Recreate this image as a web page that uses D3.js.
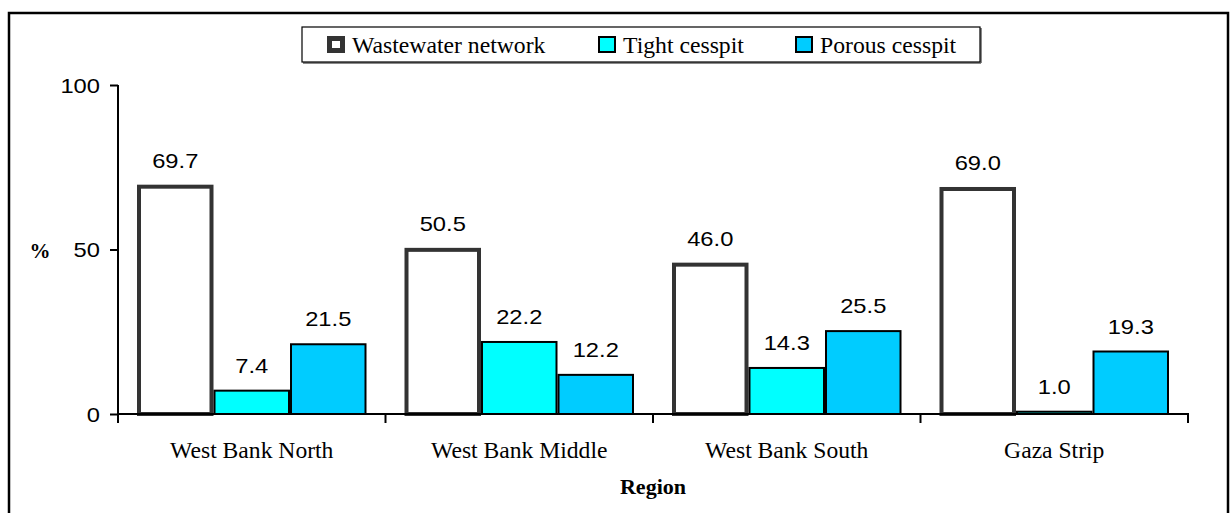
<!DOCTYPE html>
<meta charset="utf-8">
<script src="https://d3js.org/d3.v7.min.js"></script>
<style>
  body { margin: 0; background: #fff; }
</style>
<svg id="chart" width="1230" height="513"></svg>
<script>

// data
var regions = ["West Bank North", "West Bank Middle", "West Bank South", "Gaza Strip"];
var seriesNames = ["Wastewater network", "Tight cesspit", "Porous cesspit"];
var wastewater = [69.7, 50.5, 46.0, 69.0];
var tight = [7.4, 22.2, 14.3, 1.0];
var porous = [21.5, 12.2, 25.5, 19.3];
var yTicks = [0, 50, 100];

var seriesValues = [wastewater, tight, porous];
var fills = ["#ffffff", "#00ffff", "#00ccff"];
var strokes = ["#333333", "#000000", "#000000"];
var strokeW = [4, 2, 2];

var svg = d3.select("#chart");
var sans = "'Liberation Sans', Arial, sans-serif";
var serif = "'Liberation Serif', 'Times New Roman', serif";
var sx = 1.13; // the picture is a bit stretched sideways

function addText(g, x, y, txt, opts) {
  return g.append("text")
    .attr("transform", "translate(" + x + "," + y + ") scale(" + (opts.sx || sx) + ",1)")
    .attr("text-anchor", opts.anchor || "middle")
    .style("font-family", opts.font || sans)
    .style("font-size", opts.size + "px")
    .style("font-weight", opts.weight || "normal")
    .style("fill", "#000")
    .text(txt);
}

// outer frame
svg.append("rect")
  .attr("x", 9).attr("y", 13)
  .attr("width", 1219).attr("height", 520)
  .attr("fill", "none").attr("stroke", "#000").attr("stroke-width", 2.5);

// scales
var x = d3.scaleBand().domain(regions).range([118, 1188]).paddingInner(0).paddingOuter(0);
var xs = d3.scaleBand().domain(seriesNames).range([19, x.bandwidth() - 19]).padding(0);
var y = d3.scaleLinear().domain([0, 100]).range([414, 85]);

// bars
var rows = [];
regions.forEach(function(r, i) {
  seriesNames.forEach(function(s, j) {
    rows.push({ region: r, series: s, j: j, v: seriesValues[j][i] });
  });
});

svg.append("g").selectAll("rect")
  .data(rows)
  .enter()
  .append("rect")
    .attr("x", function(d) { return x(d.region) + xs(d.series) + strokeW[d.j] / 2; })
    .attr("y", function(d) { return y(d.v) + strokeW[d.j] / 2; })
    .attr("width", function(d) { return xs.bandwidth() - strokeW[d.j]; })
    .attr("height", function(d) { return Math.max(0, y(0) - y(d.v) - strokeW[d.j] / 2); })
    .attr("fill", function(d) { return fills[d.j]; })
    .attr("stroke", function(d) { return strokes[d.j]; })
    .attr("stroke-width", function(d) { return strokeW[d.j]; });

// value labels
var lab = svg.append("g");
rows.forEach(function(d) {
  addText(lab, x(d.region) + xs(d.series) + xs.bandwidth() / 2, y(d.v) - 17, d.v.toFixed(1), { size: 21 });
});

// y axis
var yAxis = svg.append("g")
  .attr("transform", "translate(118,0)")
  .call(d3.axisLeft(y).tickValues(yTicks).tickSize(8).tickFormat(function(d) { return ""; }));
yAxis.select(".domain").attr("d", "M0,85V423").attr("stroke", "#000").attr("stroke-width", 2);
yAxis.selectAll(".tick line").attr("stroke", "#000").attr("stroke-width", 2);
yTicks.forEach(function(t) {
  addText(svg, 100, y(t) + 7.5, String(t), { size: 21, anchor: "end" });
});

// x axis
var bounds = x.domain().map(function(r) { return x(r); }).concat([x.range()[1]]);
var xAxis = svg.append("g");
xAxis.append("line")
  .attr("x1", 118).attr("x2", 1189)
  .attr("y1", y(0)).attr("y2", y(0))
  .attr("stroke", "#000").attr("stroke-width", 2);
xAxis.selectAll("line.tk")
  .data(bounds.slice(1))
  .enter()
  .append("line")
    .attr("class", "tk")
    .attr("x1", function(d) { return d; }).attr("x2", function(d) { return d; })
    .attr("y1", y(0)).attr("y2", y(0) + 9)
    .attr("stroke", "#000").attr("stroke-width", 2);
regions.forEach(function(r) {
  addText(svg, x(r) + x.bandwidth() / 2, 458, r, { size: 22.5, font: serif, sx: 1.05 });
});

// axis titles
addText(svg, 653, 494, "Region", { size: 21, font: serif, weight: "bold", sx: 1.05 });
addText(svg, 40, 258, "%", { size: 21, font: serif, weight: "bold", sx: 1.0 });

// legend
var leg = svg.append("g");
leg.append("line")
  .attr("x1", 303).attr("x2", 981).attr("y1", 63).attr("y2", 63)
  .attr("stroke", "#888").attr("stroke-width", 2);
leg.append("line")
  .attr("x1", 981).attr("x2", 981).attr("y1", 28).attr("y2", 63)
  .attr("stroke", "#888").attr("stroke-width", 2);
leg.append("rect")
  .attr("x", 302).attr("y", 27).attr("width", 678).attr("height", 35)
  .attr("fill", "#fff").attr("stroke", "#000").attr("stroke-width", 1.2);
var legX = [327, 598, 795];
seriesNames.forEach(function(s, j) {
  var w = j === 0 ? 5 : 2;
  leg.append("rect")
    .attr("x", legX[j] + w / 2).attr("y", 36 + w / 2)
    .attr("width", 18 - w).attr("height", 17 - w)
    .attr("fill", fills[j])
    .attr("stroke", j === 0 ? "#333" : "#000")
    .attr("stroke-width", w);
  addText(leg, legX[j] + 25, 53, s, { size: 23.7, font: serif, anchor: "start", sx: 1.0 });
});

</script>
